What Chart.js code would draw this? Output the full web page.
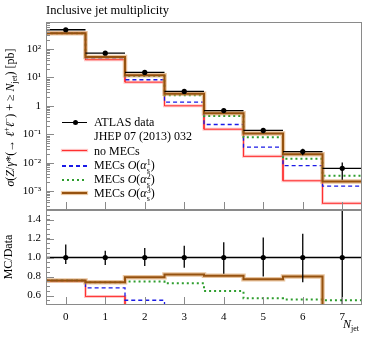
<!DOCTYPE html>
<html>
<head>
<meta charset="utf-8">
<script src="https://cdn.jsdelivr.net/npm/chart.js@4"></script>
<style>
    body { margin: 0; background: #fff; }
    #lienzo { position: relative; width: 374px; height: 337px; font-family: 'Liberation Serif', serif; color: #000; overflow: hidden; }
    .capa { position: absolute; left: 0; top: 0; }
    .texto { position: absolute; white-space: nowrap; font-size: 12px; line-height: 14px; }
    .muestra { position: absolute; left: 62px; width: 25px; }
    .pila { display: inline-block; vertical-align: -4px; font-size: 8px; line-height: 8px; text-align: left; }
    sub { font-size: 8px; vertical-align: -3px; line-height: 0; }
</style>
</head>
<body>
<div id="lienzo">
    <canvas id="graficoSuperior" class="capa" width="374" height="337"></canvas>
    <canvas id="graficoCociente" class="capa" width="374" height="337"></canvas>

    <div class="texto" style="left:46px; top:3px; font-size:12.5px;">Inclusive jet multiplicity</div>

    <!-- etiquetas de los ejes -->
    <div class="texto" style="left:-92px; top:109px; width:200px; text-align:center; transform:rotate(-90deg);">
        <i>σ</i>(<i>Z</i>/<i>γ</i>*(→ <i>ℓ</i><sup style="font-size:8px">+</sup><i>ℓ</i><sup style="font-size:8px">−</sup>) + ≥ <i>N</i><sub>jet</sub>) [pb]
    </div>
    <div class="texto" style="left:-42px; top:250px; width:100px; text-align:center; transform:rotate(-90deg);">MC/Data</div>
    <div class="texto" style="left:343px; top:317px;"><i>N</i><sub>jet</sub></div>

    <!-- leyenda -->
    <div class="muestra" style="top:122px; height:1.3px; background:#000;"></div>
    <div style="position:absolute; left:73px; top:120px; width:5px; height:5px; border-radius:50%; background:#000;"></div>
    <div class="texto" style="left:94px; top:115px;">ATLAS data</div>
    <div class="texto" style="left:94px; top:129px;">JHEP 07 (2013) 032</div>

    <div class="muestra" style="top:150px; height:1px; background:#ff3030; box-shadow:0 0 1px 1px rgba(255,120,120,0.5);"></div>
    <div class="texto" style="left:94px; top:144px;">no MECs</div>

    <div class="muestra" style="top:165px; height:1.5px; background:repeating-linear-gradient(90deg, #1a1ae6 0 4px, transparent 4px 7px);"></div>
    <div class="texto" style="left:94px; top:158px;">MECs <i>O</i>(<i>α</i><span class="pila">1<br>s</span>)</div>

    <div class="muestra" style="top:179px; height:2px; background:repeating-linear-gradient(90deg, #2e9e2e 0 2px, transparent 2px 5px);"></div>
    <div class="texto" style="left:94px; top:172px;">MECs <i>O</i>(<i>α</i><span class="pila">2<br>s</span>)</div>

    <div class="muestra" style="top:192px; height:2px; background:#96520f; box-shadow:0 0 1px 1px rgba(215,150,80,0.6);"></div>
    <div class="texto" style="left:94px; top:186px;">MECs <i>O</i>(<i>α</i><span class="pila">3<br>s</span>)</div>
</div>

<script>
// Datos (sección eficaz en pb por número de jets)
const categorias = [0, 1, 2, 3, 4, 5, 6, 7];
const datosAtlas = [475, 71, 15, 3.2, 0.68, 0.136, 0.0245, 0.0063];
// errores relativos de los datos
const errorArriba = [0.136, 0.07, 0.10, 0.125, 0.16, 0.21, 0.25, 0.6];
const errorAbajo = [0.068, 0.08, 0.09, 0.107, 0.17, 0.2, 0.26, 0.6];
const sinMECs = [357, 41.9, 6.8, 1.0, 0.15, 0.0166, 0.0023, 0.00037];
const mecsAlfa1 = [360, 48.3, 8.25, 1.35, 0.22, 0.035, 0.0079, 0.0015];
const mecsAlfa2 = [360, 52.5, 11.2, 2.33, 0.44, 0.0775, 0.0137, 0.00347];
const mecsAlfa3 = [360, 52.5, 11.9, 2.63, 0.55, 0.105, 0.0196, 0.00215];
const ticksLog = [1e-3, 1e-2, 1e-1, 1, 10, 100];
const etiquetasLog = ['10⁻³', '10⁻²', '10⁻¹', '1', '10¹', '10²'];
const ticksCociente = [0.6, 0.8, 1, 1.2, 1.4];

const fuente = 'Liberation Serif';
const colorRojo = '#ff3030';
const colorAzul = '#1a1ae6';
const colorVerde = '#2e9e2e';
const colorMarron = '#96520f';

document.addEventListener('DOMContentLoaded', (event) => {
    inicializar();
});

function inicializar() {
    crearGraficoSuperior();
    crearGraficoCociente();
}

// Convierte los valores de cada bin en los puntos de un histograma escalonado
function puntosHistograma(valores) {
    const puntos = [];
    valores.forEach((v, i) => {
        puntos.push({ x: categorias[i] - 0.5, y: v });
        puntos.push({ x: categorias[i] + 0.5, y: v });
    });
    return puntos;
}

// Segmentos horizontales sueltos para los datos
function segmentosDatos(valores) {
    const puntos = [];
    valores.forEach((v, i) => {
        puntos.push({ x: categorias[i] - 0.5, y: v });
        puntos.push({ x: categorias[i] + 0.5, y: v });
        puntos.push({ x: categorias[i] + 0.5, y: null });
    });
    return puntos;
}

function cociente(valores) {
    return valores.map((v, i) => v / datosAtlas[i]);
}

function conjuntosDeDatos(atlas, rojo, azul, verde, marron) {
    return [
        { data: atlas.map((v, i) => ({ x: categorias[i], y: v })), showLine: false, pointRadius: 2.6, pointBackgroundColor: '#000', pointBorderWidth: 0 },
        { data: segmentosDatos(atlas), borderColor: '#000', borderWidth: 1.3, pointRadius: 0, spanGaps: false },
        { data: puntosHistograma(marron), borderColor: colorMarron, borderWidth: 2, pointRadius: 0 },
        { data: puntosHistograma(marron), borderColor: 'rgba(215,150,80,0.55)', borderWidth: 4.5, pointRadius: 0 },
        { data: puntosHistograma(verde), borderColor: colorVerde, borderWidth: 2, borderDash: [2, 3], pointRadius: 0 },
        { data: puntosHistograma(azul), borderColor: colorAzul, borderWidth: 1.3, borderDash: [4, 3], pointRadius: 0 },
        { data: puntosHistograma(rojo), borderColor: colorRojo, borderWidth: 1, pointRadius: 0 },
        { data: puntosHistograma(rojo), borderColor: 'rgba(255,130,130,0.45)', borderWidth: 3, pointRadius: 0 }
    ];
}

// Marco gris y marcas hacia dentro
function pluginMarco(marcasY, menoresY) {
    return {
        id: 'marco',
        afterDraw(chart) {
            const ctx = chart.ctx;
            const area = chart.chartArea;
            const sx = chart.scales.x;
            const sy = chart.scales.y;
            ctx.save();
            ctx.strokeStyle = '#8a8a8a';
            ctx.lineWidth = 1;
            ctx.strokeRect(area.left + 0.5, area.top + 0.5, area.right - area.left - 1, area.bottom - area.top - 1);
            ctx.beginPath();
            categorias.forEach(c => {
                const x = Math.round(sx.getPixelForValue(c)) + 0.5;
                ctx.moveTo(x, area.bottom);
                ctx.lineTo(x, area.bottom - 8);
            });
            marcasY.forEach(v => {
                const y = Math.round(sy.getPixelForValue(v)) + 0.5;
                if (y < area.top || y > area.bottom) return;
                ctx.moveTo(area.left, y);
                ctx.lineTo(area.left + 8, y);
            });
            menoresY.forEach(v => {
                const y = Math.round(sy.getPixelForValue(v)) + 0.5;
                if (y < area.top || y > area.bottom) return;
                ctx.moveTo(area.left, y);
                ctx.lineTo(area.left + 4, y);
            });
            ctx.stroke();
            ctx.restore();
        }
    };
}

// Barras de error verticales de los datos
function pluginErrores(centros) {
    return {
        id: 'errores',
        afterDatasetsDraw(chart) {
            const ctx = chart.ctx;
            const area = chart.chartArea;
            const sx = chart.scales.x;
            const sy = chart.scales.y;
            ctx.save();
            ctx.beginPath();
            ctx.rect(area.left, area.top, area.right - area.left, area.bottom - area.top);
            ctx.clip();
            ctx.strokeStyle = '#000';
            ctx.lineWidth = 1.3;
            ctx.beginPath();
            centros.forEach((v, i) => {
                const x = sx.getPixelForValue(categorias[i]);
                ctx.moveTo(x, sy.getPixelForValue(v * (1 + errorArriba[i])));
                ctx.lineTo(x, sy.getPixelForValue(v * (1 - errorAbajo[i])));
            });
            ctx.stroke();
            ctx.restore();
        }
    };
}

function crearGraficoSuperior() {
    const ctx = document.getElementById('graficoSuperior').getContext('2d');
    const menores = [];
    [1e-4, 1e-3, 1e-2, 1e-1, 1, 10, 100].forEach(p => {
        for (let k = 2; k <= 9; k++) menores.push(p * k);
    });
    new Chart(ctx, {
        type: 'line',
        data: { datasets: conjuntosDeDatos(datosAtlas, sinMECs, mecsAlfa1, mecsAlfa2, mecsAlfa3) },
        options: {
            responsive: false,
            animation: false,
            layout: { padding: { top: 22, right: 12, bottom: 127, left: 0 } },
            plugins: { legend: { display: false }, tooltip: { enabled: false } },
            scales: {
                x: { type: 'linear', min: -0.5, max: 7.5, display: false },
                y: {
                    type: 'logarithmic',
                    min: 2.15e-4,
                    max: 890,
                    grid: { display: false, drawTicks: false },
                    border: { display: false },
                    afterFit: (escala) => { escala.width = 46; },
                    afterBuildTicks: (escala) => { escala.ticks = ticksLog.map(v => ({ value: v })); },
                    ticks: {
                        padding: 5,
                        color: '#000',
                        font: { family: fuente, size: 11 },
                        callback: function(valor) {
                            const i = ticksLog.indexOf(valor);
                            return i >= 0 ? etiquetasLog[i] : '';
                        }
                    }
                }
            }
        },
        plugins: [pluginMarco(ticksLog, menores), pluginErrores(datosAtlas)]
    });
}

function crearGraficoCociente() {
    const ctx = document.getElementById('graficoCociente').getContext('2d');
    const menores = [];
    for (let v = 0.55; v < 1.5; v += 0.05) menores.push(v);
    const unos = datosAtlas.map(() => 1);
    new Chart(ctx, {
        type: 'line',
        data: { datasets: conjuntosDeDatos(unos, cociente(sinMECs), cociente(mecsAlfa1), cociente(mecsAlfa2), cociente(mecsAlfa3)) },
        options: {
            responsive: false,
            animation: false,
            layout: { padding: { top: 210, right: 12, bottom: 10, left: 0 } },
            plugins: { legend: { display: false }, tooltip: { enabled: false } },
            scales: {
                x: {
                    type: 'linear',
                    min: -0.5,
                    max: 7.5,
                    grid: { display: false, drawTicks: false },
                    border: { display: false },
                    afterFit: (escala) => { escala.height = 22; },
                    afterBuildTicks: (escala) => { escala.ticks = categorias.map(v => ({ value: v })); },
                    ticks: { padding: 6, color: '#000', font: { family: fuente, size: 11 } }
                },
                y: {
                    min: 0.5,
                    max: 1.5,
                    grid: { display: false, drawTicks: false },
                    border: { display: false },
                    afterFit: (escala) => { escala.width = 46; },
                    afterBuildTicks: (escala) => { escala.ticks = ticksCociente.map(v => ({ value: v })); },
                    ticks: { padding: 5, color: '#000', font: { family: fuente, size: 11 } }
                }
            }
        },
        plugins: [pluginMarco(ticksCociente, menores), pluginErrores(unos)]
    });
}
</script>
</body>
</html>
